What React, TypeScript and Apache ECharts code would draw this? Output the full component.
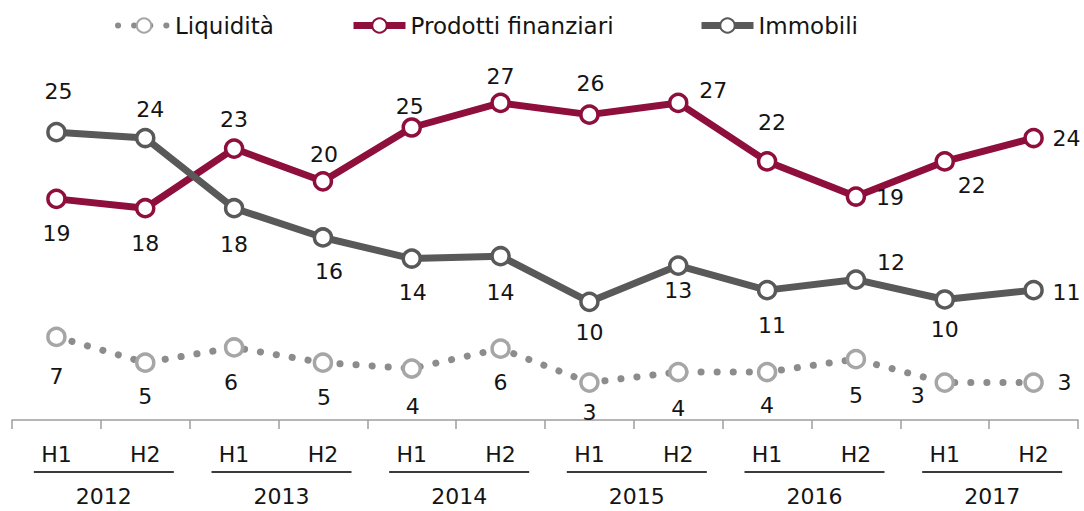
import React, { useEffect, useRef } from "react";
import * as echarts from "echarts";

const halves = ["H1", "H2", "H1", "H2", "H1", "H2", "H1", "H2", "H1", "H2", "H1", "H2"];
const years = ["2012", "2013", "2014", "2015", "2016", "2017"];
const seriesNames = ["Liquidità", "Prodotti finanziari", "Immobili"];

const liquidita = [7.1, 4.9, 6.2, 4.9, 4.4, 6.1, 3.2, 4.1, 4.1, 5.2, 3.2, 3.2];
const prodotti = [18.9, 18.1, 23.2, 20.4, 25.0, 27.1, 26.1, 27.1, 22.1, 19.1, 22.1, 24.1];
const immobili = [24.6, 24.1, 18.1, 15.6, 13.8, 14.0, 10.1, 13.2, 11.1, 12.0, 10.3, 11.1];

// label placement (style only)
const liqOffsets = [[0, 40], [0, 34], [-3, 35], [1, 35], [1, 38], [0, 34], [0, 30], [0, 36], [0, 33], [0, 36], [-27, 13], [31, 0]];
const prodOffsets = [[0, 35], [0, 35], [0, -29], [1, -27], [-2, -21], [0, -26], [1, -31], [35, -12], [5, -39], [34, 1], [27, 24], [33, 0]];
const immOffsets = [[2, -41], [5, -29], [0, 36], [6, 34], [1, 34], [0, 36], [0, 31], [0, 25], [5, 35], [35, -17], [0, 30], [33, 2]];

const FONT = "DejaVu Sans";
const TEXT = "#141414";
const RED = "#8E0E3C";
const DARK = "#595959";
const LIGHT = "#A6A6A6";
const DOT = "#8C8C8C";

function build(values: number[], offsets: number[][]) {
  return values.map((v, i) => ({ value: v, label: { offset: offsets[i] } }));
}

const labelBase = {
  show: true,
  position: "inside",
  fontSize: 22,
  fontFamily: FONT,
  color: TEXT,
  formatter: (p: any) => String(Math.round(p.value)),
};

export default function App() {
  const ref = useRef<HTMLDivElement>(null);
  useEffect(() => {
    if (!ref.current) return;
    const chart = echarts.init(ref.current, undefined, { renderer: "svg" });
    const legendCommon = {
      top: 9,
      itemWidth: 52,
      itemHeight: 18,
      textStyle: { fontSize: 23, fontFamily: FONT, color: TEXT },
    };
    chart.setOption({
      animation: false,
      backgroundColor: "#ffffff",
      legend: [
        { ...legendCommon, left: 110, data: [seriesNames[0]], lineStyle: { width: 6, type: [0.1, 16], cap: "round" } },
        { ...legendCommon, left: 345, data: [seriesNames[1]], lineStyle: { width: 7 } },
        { ...legendCommon, left: 693, data: [seriesNames[2]], lineStyle: { width: 7 } },
      ],
      grid: { left: 12, right: 6, top: 69, bottom: 91, containLabel: false },
      xAxis: [
        {
          type: "category",
          data: halves,
          boundaryGap: true,
          axisLine: { show: true, lineStyle: { color: "#9E9E9E", width: 1.5 } },
          axisTick: { show: true, length: 9, lineStyle: { color: "#9E9E9E", width: 1.5 } },
          axisLabel: { fontSize: 22, fontFamily: FONT, color: TEXT, margin: 23, interval: 0 },
        },
        {
          type: "category",
          data: years,
          position: "bottom",
          boundaryGap: true,
          axisLine: { show: false },
          axisTick: { show: false },
          axisLabel: {
            interval: 0,
            margin: 51,
            padding: [0, 0, 0, 6],
            formatter: (v: string) => "{l|}\n{y|" + v + "}",
            rich: {
              l: { width: 140, height: 2, lineHeight: 2, backgroundColor: "#3A3A3A" },
              y: { fontSize: 22, fontFamily: FONT, color: TEXT, lineHeight: 46 },
            },
          },
        },
      ],
      yAxis: {
        type: "value",
        min: 0,
        max: 30,
        show: false,
        splitLine: { show: false },
      },
      series: [
        {
          name: seriesNames[0],
          type: "line",
          data: build(liquidita, liqOffsets),
          symbol: "circle",
          symbolSize: 17,
          showAllSymbol: true,
          lineStyle: { color: DOT, width: 7, type: [0.1, 16], cap: "round" },
          itemStyle: { color: "#ffffff", borderColor: LIGHT, borderWidth: 3.5 },
          label: labelBase,
          z: 2,
        },
        {
          name: seriesNames[1],
          type: "line",
          data: build(prodotti, prodOffsets),
          symbol: "circle",
          symbolSize: 17,
          showAllSymbol: true,
          lineStyle: { color: RED, width: 7 },
          itemStyle: { color: "#ffffff", borderColor: RED, borderWidth: 3.5 },
          label: labelBase,
          z: 3,
        },
        {
          name: seriesNames[2],
          type: "line",
          data: build(immobili, immOffsets),
          symbol: "circle",
          symbolSize: 17,
          showAllSymbol: true,
          lineStyle: { color: DARK, width: 7 },
          itemStyle: { color: "#ffffff", borderColor: DARK, borderWidth: 3.5 },
          label: labelBase,
          z: 4,
        },
      ],
    });
    return () => chart.dispose();
  }, []);
  return (
    <div
      ref={ref}
      style={{ position: "absolute", left: 0, top: 0, width: 1084, height: 511, background: "#fff" }}
    />
  );
}
